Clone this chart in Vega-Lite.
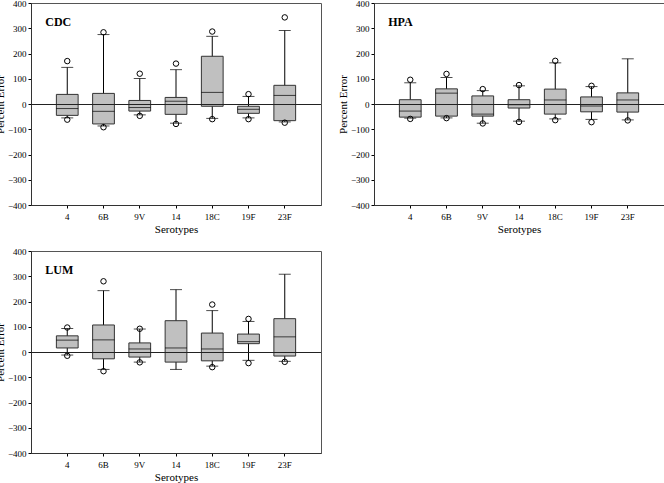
{
  "$schema": "https://vega.github.io/schema/vega-lite/v6.json",
  "padding": {"left": -7, "top": -2, "right": 0, "bottom": 0},
  "background": "white",
  "config": {
    "font": "Liberation Serif",
    "view": {"stroke": "#555", "strokeWidth": 1},
    "axis": {"labelFont": "Liberation Serif", "titleFont": "Liberation Serif", "labelFontSize": 9, "titleFontSize": 11, "titleFontWeight": "normal", "labelColor": "black", "titleColor": "black", "domainColor": "#333", "tickColor": "black", "grid": false, "tickSize": 3},
    "axisY": {"labelPadding": 2, "titlePadding": 2, "labelOverlap": false, "values": [-400, -300, -200, -100, 0, 100, 200, 300, 400]},
    "axisX": {"labelAngle": 0, "labelPadding": 4, "titlePadding": 2},
    "tick": {"color": "black", "thickness": 1},
    "point": {"filled": false, "color": "black", "size": 30, "strokeWidth": 1, "opacity": 1},
    "bar": {"fill": "#c0c0c0", "stroke": "#333", "strokeWidth": 1},
    "rule": {"color": "black", "strokeWidth": 1},
    "text": {"font": "Liberation Serif", "fontSize": 12, "fontWeight": "bold", "color": "black", "align": "left", "baseline": "middle", "dx": -22}
  },
  "data": {"values": [
    {"panel": "CDC", "sero": "4", "lo": -55, "q1": -45, "med": -18, "q3": 38, "hi": 145, "olo": -62, "ohi": 170},
    {"panel": "CDC", "sero": "6B", "lo": -87, "q1": -79, "med": -29, "q3": 42, "hi": 275, "olo": -92, "ohi": 284},
    {"panel": "CDC", "sero": "9V", "lo": -43, "q1": -28, "med": -14, "q3": 14, "hi": 101, "olo": -47, "ohi": 120},
    {"panel": "CDC", "sero": "14", "lo": -76, "q1": -41, "med": 11, "q3": 26, "hi": 136, "olo": -79, "ohi": 160},
    {"panel": "CDC", "sero": "18C", "lo": -57, "q1": -9, "med": 46, "q3": 189, "hi": 268, "olo": -60, "ohi": 287},
    {"panel": "CDC", "sero": "19F", "lo": -55, "q1": -37, "med": -21, "q3": -9, "hi": 30, "olo": -60, "ohi": 39},
    {"panel": "CDC", "sero": "23F", "lo": -71, "q1": -66, "med": 34, "q3": 74, "hi": 291, "olo": -74, "ohi": 343},
    {"panel": "HPA", "sero": "4", "lo": -56, "q1": -52, "med": -28, "q3": 17, "hi": 84, "olo": -59, "ohi": 96},
    {"panel": "HPA", "sero": "6B", "lo": -55, "q1": -48, "med": 43, "q3": 60, "hi": 105, "olo": -56, "ohi": 119},
    {"panel": "HPA", "sero": "9V", "lo": -76, "q1": -48, "med": -40, "q3": 32, "hi": 53, "olo": -77, "ohi": 59},
    {"panel": "HPA", "sero": "14", "lo": -68, "q1": -16, "med": -3, "q3": 17, "hi": 72, "olo": -71, "ohi": 75},
    {"panel": "HPA", "sero": "18C", "lo": -59, "q1": -40, "med": 16, "q3": 59, "hi": 163, "olo": -64, "ohi": 171},
    {"panel": "HPA", "sero": "19F", "lo": -61, "q1": -31, "med": -8, "q3": 28, "hi": 69, "olo": -72, "ohi": 72},
    {"panel": "HPA", "sero": "23F", "lo": -63, "q1": -32, "med": 16, "q3": 44, "hi": 179, "olo": -65, "ohi": null},
    {"panel": "LUM", "sero": "4", "lo": -12, "q1": 16, "med": 47, "q3": 64, "hi": 93, "olo": -15, "ohi": 97},
    {"panel": "LUM", "sero": "6B", "lo": -69, "q1": -27, "med": 48, "q3": 107, "hi": 243, "olo": -76, "ohi": 280},
    {"panel": "LUM", "sero": "9V", "lo": -40, "q1": -20, "med": 12, "q3": 36, "hi": 91, "olo": -41, "ohi": 92},
    {"panel": "LUM", "sero": "14", "lo": -69, "q1": -40, "med": 16, "q3": 124, "hi": 247, "olo": null, "ohi": null},
    {"panel": "LUM", "sero": "18C", "lo": -56, "q1": -35, "med": 12, "q3": 75, "hi": 164, "olo": -60, "ohi": 188},
    {"panel": "LUM", "sero": "19F", "lo": -33, "q1": 33, "med": 41, "q3": 71, "hi": 121, "olo": -44, "ohi": 131},
    {"panel": "LUM", "sero": "23F", "lo": -37, "q1": -16, "med": 60, "q3": 132, "hi": 308, "olo": -39, "ohi": null}
  ]},
  "columns": 2,
  "spacing": {"row": 11, "column": 14},
  "concat": [
    {
      "transform": [{"filter": "datum.panel === 'CDC'"}],
      "width": 290, "height": 202,
      "encoding": {"x": {"field": "sero", "type": "nominal", "sort": ["4", "6B", "9V", "14", "18C", "19F", "23F"], "scale": {"paddingInner": 0.4, "paddingOuter": 0.7}, "title": "Serotypes"}},
      "layer": [
        {"mark": "rule", "encoding": {"y": {"field": "lo", "type": "quantitative", "scale": {"domain": [-400, 400], "nice": false}, "title": "Percent Error"}, "y2": {"field": "hi"}}},
        {"mark": {"type": "tick", "size": 12}, "encoding": {"y": {"field": "lo", "type": "quantitative"}}},
        {"mark": {"type": "tick", "size": 12}, "encoding": {"y": {"field": "hi", "type": "quantitative"}}},
        {"mark": "bar", "encoding": {"y": {"field": "q1", "type": "quantitative"}, "y2": {"field": "q3"}}},
        {"mark": {"type": "tick", "size": 22}, "encoding": {"y": {"field": "med", "type": "quantitative"}}},
        {"mark": {"type": "rule", "color": "#222", "yOffset": 0.5}, "encoding": {"y": {"datum": 0}, "x": {"value": 0}, "x2": {"value": 290}}},
        {"mark": "point", "encoding": {"y": {"field": "olo", "type": "quantitative"}}},
        {"mark": "point", "encoding": {"y": {"field": "ohi", "type": "quantitative"}}},
        {"transform": [{"filter": "datum.sero === '4'"}], "mark": "text", "encoding": {"y": {"datum": 325}, "text": {"field": "panel"}}}
      ]
    },
    {
      "transform": [{"filter": "datum.panel === 'HPA'"}],
      "width": 290, "height": 202,
      "encoding": {"x": {"field": "sero", "type": "nominal", "sort": ["4", "6B", "9V", "14", "18C", "19F", "23F"], "scale": {"paddingInner": 0.4, "paddingOuter": 0.7}, "title": "Serotypes"}},
      "layer": [
        {"mark": "rule", "encoding": {"y": {"field": "lo", "type": "quantitative", "scale": {"domain": [-400, 400], "nice": false}, "title": "Percent Error"}, "y2": {"field": "hi"}}},
        {"mark": {"type": "tick", "size": 12}, "encoding": {"y": {"field": "lo", "type": "quantitative"}}},
        {"mark": {"type": "tick", "size": 12}, "encoding": {"y": {"field": "hi", "type": "quantitative"}}},
        {"mark": "bar", "encoding": {"y": {"field": "q1", "type": "quantitative"}, "y2": {"field": "q3"}}},
        {"mark": {"type": "tick", "size": 22}, "encoding": {"y": {"field": "med", "type": "quantitative"}}},
        {"mark": {"type": "rule", "color": "#222", "yOffset": 0.5}, "encoding": {"y": {"datum": 0}, "x": {"value": 0}, "x2": {"value": 290}}},
        {"mark": "point", "encoding": {"y": {"field": "olo", "type": "quantitative"}}},
        {"mark": "point", "encoding": {"y": {"field": "ohi", "type": "quantitative"}}},
        {"transform": [{"filter": "datum.sero === '4'"}], "mark": "text", "encoding": {"y": {"datum": 325}, "text": {"field": "panel"}}}
      ]
    },
    {
      "transform": [{"filter": "datum.panel === 'LUM'"}],
      "width": 290, "height": 202,
      "encoding": {"x": {"field": "sero", "type": "nominal", "sort": ["4", "6B", "9V", "14", "18C", "19F", "23F"], "scale": {"paddingInner": 0.4, "paddingOuter": 0.7}, "title": "Serotypes"}},
      "layer": [
        {"mark": "rule", "encoding": {"y": {"field": "lo", "type": "quantitative", "scale": {"domain": [-400, 400], "nice": false}, "title": "Percent Error"}, "y2": {"field": "hi"}}},
        {"mark": {"type": "tick", "size": 12}, "encoding": {"y": {"field": "lo", "type": "quantitative"}}},
        {"mark": {"type": "tick", "size": 12}, "encoding": {"y": {"field": "hi", "type": "quantitative"}}},
        {"mark": "bar", "encoding": {"y": {"field": "q1", "type": "quantitative"}, "y2": {"field": "q3"}}},
        {"mark": {"type": "tick", "size": 22}, "encoding": {"y": {"field": "med", "type": "quantitative"}}},
        {"mark": {"type": "rule", "color": "#222", "yOffset": 0.5}, "encoding": {"y": {"datum": 0}, "x": {"value": 0}, "x2": {"value": 290}}},
        {"mark": "point", "encoding": {"y": {"field": "olo", "type": "quantitative"}}},
        {"mark": "point", "encoding": {"y": {"field": "ohi", "type": "quantitative"}}},
        {"transform": [{"filter": "datum.sero === '4'"}], "mark": "text", "encoding": {"y": {"datum": 325}, "text": {"field": "panel"}}}
      ]
    }
  ]
}
